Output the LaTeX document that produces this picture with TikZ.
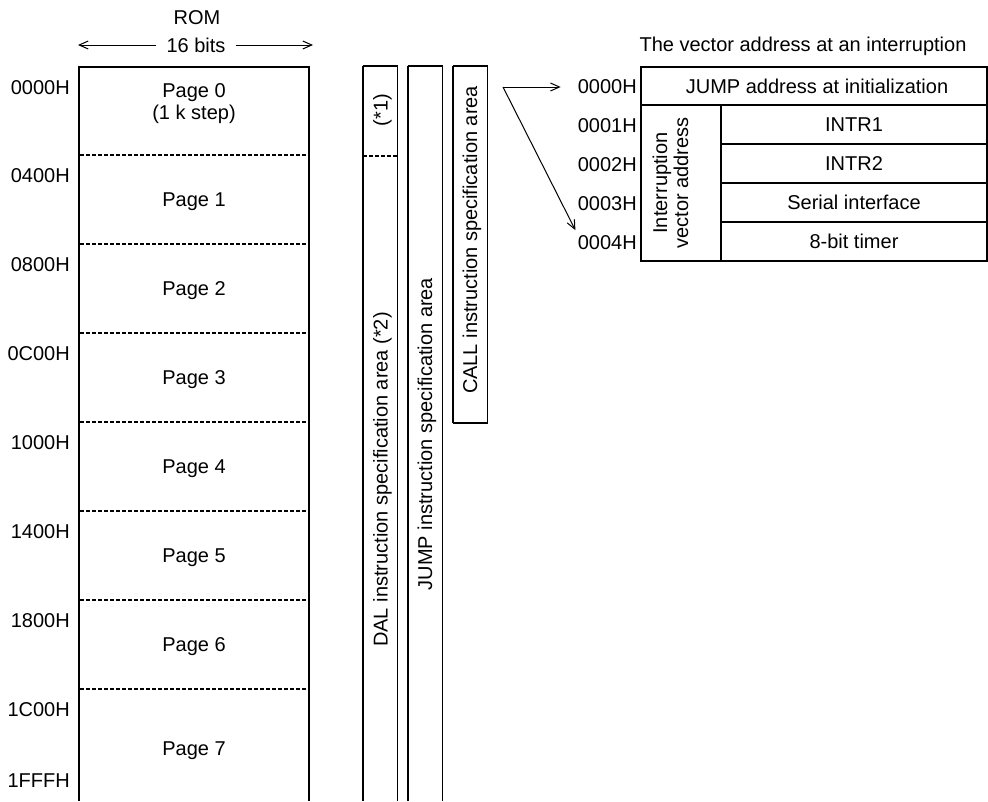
\documentclass[tikz,border=0pt]{standalone}
\usepackage{fontspec}
\setmainfont{Liberation Sans}
\usetikzlibrary{arrows.meta}
\begin{document}
\begin{tikzpicture}[x=1pt,y=-1pt,
  txt/.style={font=\fontsize{20}{22}\selectfont, inner sep=0pt, text height=14.3pt, text depth=0pt},
  addr/.style={txt, anchor=east},
  heavy/.style={line width=2pt},
  light/.style={line width=1.3pt},
  grid line/.style={line width=1.5pt},
  sepline/.style={line width=1.6pt, dash pattern=on 4pt off 2pt},
  arr/.style={line width=1pt, -{Straight Barb[length=9pt,width=8pt]}},
  vtxt/.style={txt, rotate=90},
]
\useasboundingbox (0,0) rectangle (988,801);

% ---------- ROM header ----------
\node[txt] (rom) at (197,17) {ROM};
\node[txt, inner xsep=10pt] (bits) at (196,45) {16 bits};
\coordinate (romL) at (78,45);
\coordinate (romR) at (313,45);
\draw[arr] (bits.west) -- (romL);
\draw[arr] (bits.east) -- (romR);

% ---------- ROM box ----------
\draw[heavy] (79,801) -- (79,67) -- (309,67) -- (309,801);
\foreach \yy in {155,244,333,422,511,600,689}
  \draw[sepline] (80,\yy) -- (308,\yy);

\node[txt, align=center] (p0) at (194,112) {Page 0\\(1 k step)};
\node[txt] (p1) at (194,199.5) {Page 1};
\node[txt] (p2) at (194,288.5) {Page 2};
\node[txt] (p3) at (194,377.5) {Page 3};
\node[txt] (p4) at (194,466.5) {Page 4};
\node[txt] (p5) at (194,555.5) {Page 5};
\node[txt] (p6) at (194,644.5) {Page 6};
\node[txt] (p7) at (194,748) {Page 7};

\node[addr] (ad0) at (70,87) {0000H};
\node[addr] (ad1) at (70,175) {0400H};
\node[addr] (ad2) at (70,264) {0800H};
\node[addr] (ad3) at (70,353) {0C00H};
\node[addr] (ad4) at (70,442) {1000H};
\node[addr] (ad5) at (70,531) {1400H};
\node[addr] (ad6) at (70,620) {1800H};
\node[addr] (ad7) at (70,709) {1C00H};
\node[addr] (ad8) at (70,780) {1FFFH};

% ---------- instruction area columns ----------
% DAL
\draw[light] (363,801) -- (363,66);
\draw[light] (397.5,801) -- (397.5,66);
\draw[heavy] (362.5,66) -- (398,66);
\draw[sepline, line width=1.4pt] (363,156) -- (397.5,156);
\node[vtxt] (dal1) at (380.5,110) {(*1)};
\node[vtxt] (dal) at (380.5,479.5) {DAL instruction specification area (*2)};
% JUMP
\draw[light] (408,801) -- (408,66);
\draw[light] (442.5,801) -- (442.5,66);
\draw[heavy] (407.5,66) -- (443,66);
\node[vtxt] (jmp) at (425,434) {JUMP instruction specification area};
% CALL
\draw[light] (453,423) -- (453,66);
\draw[light] (487.5,423) -- (487.5,66);
\draw[heavy] (452.5,66) -- (488,66);
\draw[heavy] (452.5,423) -- (488,423);
\node[vtxt] (call) at (470,240) {CALL instruction specification area};

% ---------- vector table ----------
\node[txt] (title) at (803,44) {The vector address at an interruption};
\draw[grid line] (641,67) rectangle (987,261);
\draw[grid line] (641,105) -- (987,105);
\draw[grid line] (721,105) -- (721,261);
\foreach \yy in {144,183,222}
  \draw[grid line] (721,\yy) -- (987,\yy);

\node[txt] (jinit) at (817,86) {JUMP address at initialization};
\node[txt] (intr1) at (854,124.5) {INTR1};
\node[txt] (intr2) at (854,163.5) {INTR2};
\node[txt] (serial) at (854,202.5) {Serial interface};
\node[txt] (timer) at (854,241.5) {8-bit timer};
\node[txt, rotate=90, align=center, font=\fontsize{20}{21}\selectfont] (iva) at (681,183) {Interruption\\vector address};

\node[addr] (r0) at (637,86) {0000H};
\node[addr] (r1) at (637,125) {0001H};
\node[addr] (r2) at (637,164) {0002H};
\node[addr] (r3) at (637,203) {0003H};
\node[addr] (r4) at (637,242) {0004H};

\coordinate (split) at (503,87);
\draw[arr, shorten >=17pt] (split) -- (split -| r0.west);
\draw[arr, shorten >=5pt] (split) -- (r4.north west);
\end{tikzpicture}
\end{document}
